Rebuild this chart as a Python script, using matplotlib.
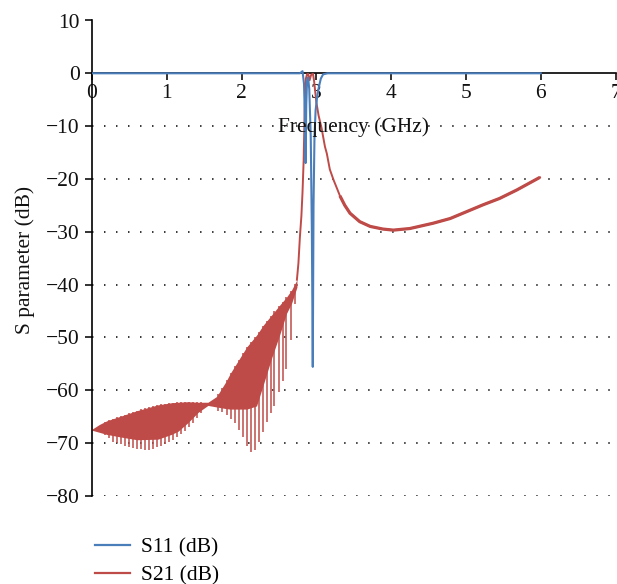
import numpy as np
import matplotlib
matplotlib.use("Agg")
import matplotlib.pyplot as plt
from matplotlib.lines import Line2D

plt.rcParams['font.family'] = ['Liberation Serif', 'DejaVu Serif']

# ---------------- data ----------------
# S11 (dB)
s11_f = [0.0, 2.78, 2.815, 2.835, 2.848, 2.856, 2.865, 2.875, 2.89, 2.905, 2.925,
         2.94, 2.952, 2.962, 2.975, 2.99, 3.01, 3.035, 3.06, 3.09, 3.15, 6.0]
s11_db = [0.0, 0.0, 0.4, -2.0, -9.0, -17.0, -6.0, -1.5, -0.8, -3.0, -12.0,
          -30.0, -55.6, -25.0, -12.0, -7.0, -4.5, -2.5, -1.0, -0.2, 0.0, 0.0]

# S21 (dB): ripple band below the passband (frequency, upper edge, lower solid edge)
band_f = [0.0, 0.1, 0.2, 0.39, 0.6, 0.88, 1.06, 1.15, 1.28, 1.42, 1.55, 1.667,
          1.79, 1.85, 2.07, 2.2, 2.29, 2.4, 2.51, 2.6, 2.67, 2.74]
band_top = [-67.4, -66.5, -65.8, -64.9, -63.9, -62.8, -62.4, -62.3, -62.2, -62.3,
            -62.3, -61.2, -58.4, -56.8, -51.8, -49.6, -47.7, -45.8, -43.9, -42.4,
            -41.0, -39.1]
band_bottom = [-67.6, -68.0, -68.4, -68.9, -69.4, -69.3, -68.4, -67.8, -66.2, -64.2,
               -62.9, -63.2, -63.5, -63.6, -63.6, -63.0, -59.0, -54.0, -49.5, -45.5,
               -43.5, -40.5]
# S21 notch (spike) frequencies and depths
notch_f = [0.17, 0.23, 0.28, 0.34, 0.39, 0.445, 0.50, 0.55, 0.605, 0.66, 0.71, 0.766,
           0.82, 0.873, 0.926, 0.98, 1.03, 1.087, 1.14, 1.19, 1.247, 1.30, 1.354, 1.41,
           1.46, 1.685, 1.74, 1.80, 1.855, 1.91, 1.96, 2.015, 2.07, 2.12, 2.175, 2.23,
           2.28, 2.335, 2.39, 2.44, 2.50, 2.55, 2.60, 2.656, 2.71]
notch_db = [-68.5, -69.1, -69.8, -70.0, -70.2, -70.5, -70.7, -70.9, -71.1, -71.2, -71.3,
            -71.3, -71.1, -70.8, -70.6, -70.2, -69.8, -69.5, -68.9, -68.4, -67.7, -66.9,
            -66.2, -65.2, -64.3, -63.9, -64.2, -64.7, -65.5, -66.3, -67.6, -68.9, -70.6,
            -71.7, -71.4, -69.8, -67.9, -66.0, -64.4, -63.1, -60.3, -58.3, -56.0, -50.5,
            -43.6]
# S21 passband and upper stopband
s21_f = [2.74, 2.76, 2.78, 2.80, 2.815, 2.83, 2.845, 2.86, 2.875, 2.89, 2.91, 2.93,
         2.955, 2.97, 2.985, 3.0, 3.03, 3.07, 3.115, 3.14, 3.18, 3.23, 3.27, 3.315,
         3.38, 3.45, 3.58, 3.72, 3.89, 4.03, 4.25, 4.56, 4.79, 5.01, 5.23, 5.45, 5.68, 5.99]
s21_db = [-39.1, -36.0, -31.0, -27.0, -22.5, -16.5, -6.0, -1.0, -0.2, -0.1, -1.3, -0.3,
          -0.1, -1.5, -3.5, -5.5, -8.0, -10.4, -13.9, -15.2, -18.2, -20.2, -21.6, -23.2,
          -25.0, -26.5, -28.1, -29.0, -29.5, -29.7, -29.4, -28.4, -27.5, -26.2, -24.9,
          -23.7, -22.1, -19.7]

x_ticks = [0, 1, 2, 3, 4, 5, 6, 7]
y_ticks = [10, 0, -10, -20, -30, -40, -50, -60, -70, -80]

BLUE = '#4a7ebb'
RED = '#be4b48'
FS = 15.5

# ---------------- figure ----------------
fig = plt.figure(figsize=(6.17, 5.84), dpi=100)
ax = fig.add_axes([92 / 617, 1 - 495.7 / 584, (615.5 - 92) / 617, (495.7 - 20.5) / 584])

ax.set_xlim(0, 7)
ax.set_ylim(-80, 10)

# dotted grid
for yv in y_ticks:
    if yv != 0:
        ax.axhline(yv, color='#222222', lw=1.3, ls=(0, (0.8, 5.85)), zorder=0)

# S21 ripple band
ax.fill_between(band_f, band_top, band_bottom, color=RED, lw=0, zorder=2)
ax.vlines(notch_f, notch_db, np.interp(notch_f, band_f, band_top), color=RED, lw=1.1, zorder=2)
ax.plot(s21_f, s21_db, color=RED, lw=1.4, zorder=2)
tail = [i for i, f in enumerate(s21_f) if f >= 3.3]
ax.plot([s21_f[i] for i in tail], [s21_db[i] for i in tail], color=RED, lw=2.3,
        solid_capstyle='butt', zorder=2)

# S11
ax.plot(s11_f, s11_db, color=BLUE, lw=1.5, zorder=3)

# spines
ax.spines['top'].set_visible(False)
ax.spines['right'].set_visible(False)
ax.spines['bottom'].set_position(('data', 0))
ax.spines['bottom'].set_linewidth(1.2)
ax.spines['left'].set_linewidth(1.2)
ax.spines['bottom'].set_zorder(1)

ax.set_xticks(x_ticks)
ax.set_yticks(y_ticks)
ax.set_xticklabels([str(v) for v in x_ticks])
ax.set_yticklabels([('\u2212' + str(-v)) if v < 0 else str(v) for v in y_ticks])
ax.tick_params(axis='both', direction='out', length=4.8, width=1.2, labelsize=FS,
               colors='#111111')
ax.tick_params(axis='x', pad=3)
ax.tick_params(axis='y', pad=4)

ax.text(3.5, -10.2, 'Frequency (GHz)', ha='center', va='center', fontsize=FS,
        color='#111111', zorder=4)
fig.text(25 / 617, 1 - 259.5 / 584, 'S parameter (dB)', rotation=90, ha='center',
         va='center', fontsize=FS, color='#111111')

handles = [Line2D([], [], color=BLUE, lw=1.6), Line2D([], [], color=RED, lw=1.6)]
fig.legend(handles, ['S11 (dB)', 'S21 (dB)'], loc='upper left',
           bbox_to_anchor=(80 / 617, 1 - 522 / 584), frameon=False, fontsize=FS,
           handlelength=1.6, handletextpad=0.55, labelspacing=0.38, borderpad=0.2)

fig.savefig('out.png', dpi=100)
